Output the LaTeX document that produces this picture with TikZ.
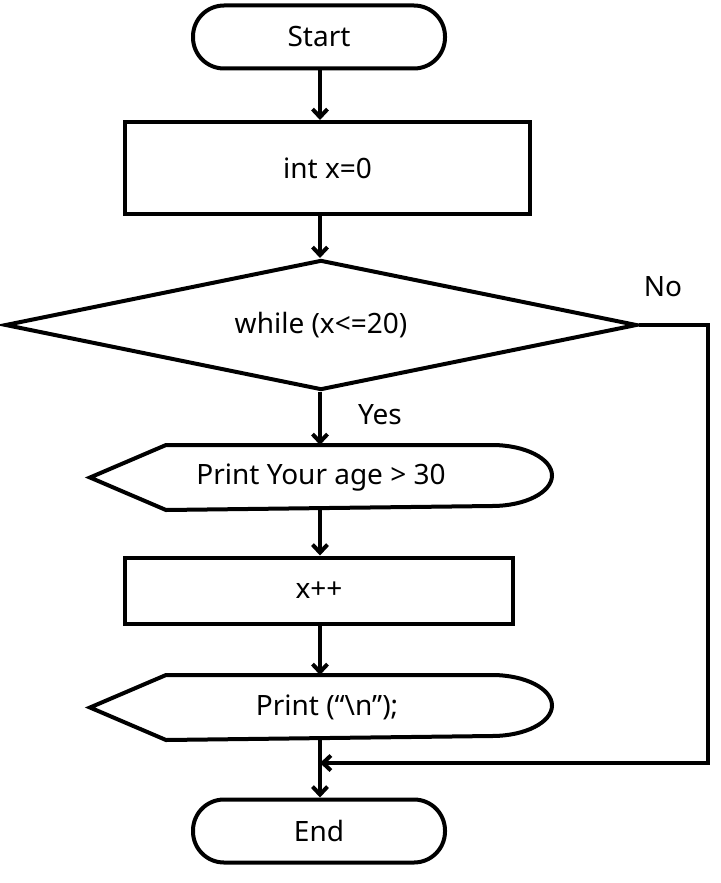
\documentclass[tikz,border=0pt]{standalone}
\usepackage{fontspec}
\setmainfont{Noto Sans}
\usetikzlibrary{shapes.geometric,arrows.meta}
\begin{document}
\begin{tikzpicture}
  [x=1pt,y=-1pt,line width=4pt,font=\fontsize{28}{32}\selectfont,
   every node/.style={inner sep=0pt},
   term/.style={draw,rectangle,rounded corners=31pt,minimum width=252pt,minimum height=63pt},
   proc/.style={draw,rectangle,minimum height=66pt},
   cond/.style={draw,diamond,shape aspect=4.86,minimum width=632pt,minimum height=130pt},
   disp/.style={minimum width=458pt,minimum height=61pt},
   flow/.style={-{Straight Barb[length=8pt,width=15pt]}}]
  \useasboundingbox (0,0) rectangle (720,883);

  \node[term] (start) at (319,37)  {Start};
  \node[proc,minimum width=405pt,minimum height=92pt] (init) at (327.5,168) {int x=0};
  \node[cond] (loop) at (321,325)  {while (x<=20)};
  \node[disp] (p1) at (321,477.5)  {Print Your age > 30};
  \node[proc,minimum width=388pt] (inc) at (319,590.5) {x++};
  \node[disp] (p2) at (327,707.5)  {Print (“\textbackslash n”);};
  \node[term] (end) at (319,831)   {End};

  \node (no)  at (663,287) {No};
  \node (yes) at (380,415) {Yes};

  % display outlines
  \foreach \n/\dx in {p1/0,p2/-6}
    \draw ([xshift=\dx]\n.west) -- ([xshift=76+\dx]\n.north west) -- ([xshift=-60+\dx]\n.north east)
      arc[start angle=90,end angle=-90,x radius=60pt,y radius=30.5pt]
      -- ([xshift=76+\dx]\n.south west) -- cycle;

  \coordinate (r1) at (708,325);
  \coordinate (r2) at (708,763);
  \coordinate (join) at (320,763);

  \foreach \from/\to in {start/init,init/loop,loop/p1,p1/inc,inc/p2,p2/end}
    \draw[flow] (\from.south -| 320,0) -- (\to.north -| 320,0);

  \draw[flow] (loop.east) -- (r1) -- (r2) -- (join);

\end{tikzpicture}
\end{document}
